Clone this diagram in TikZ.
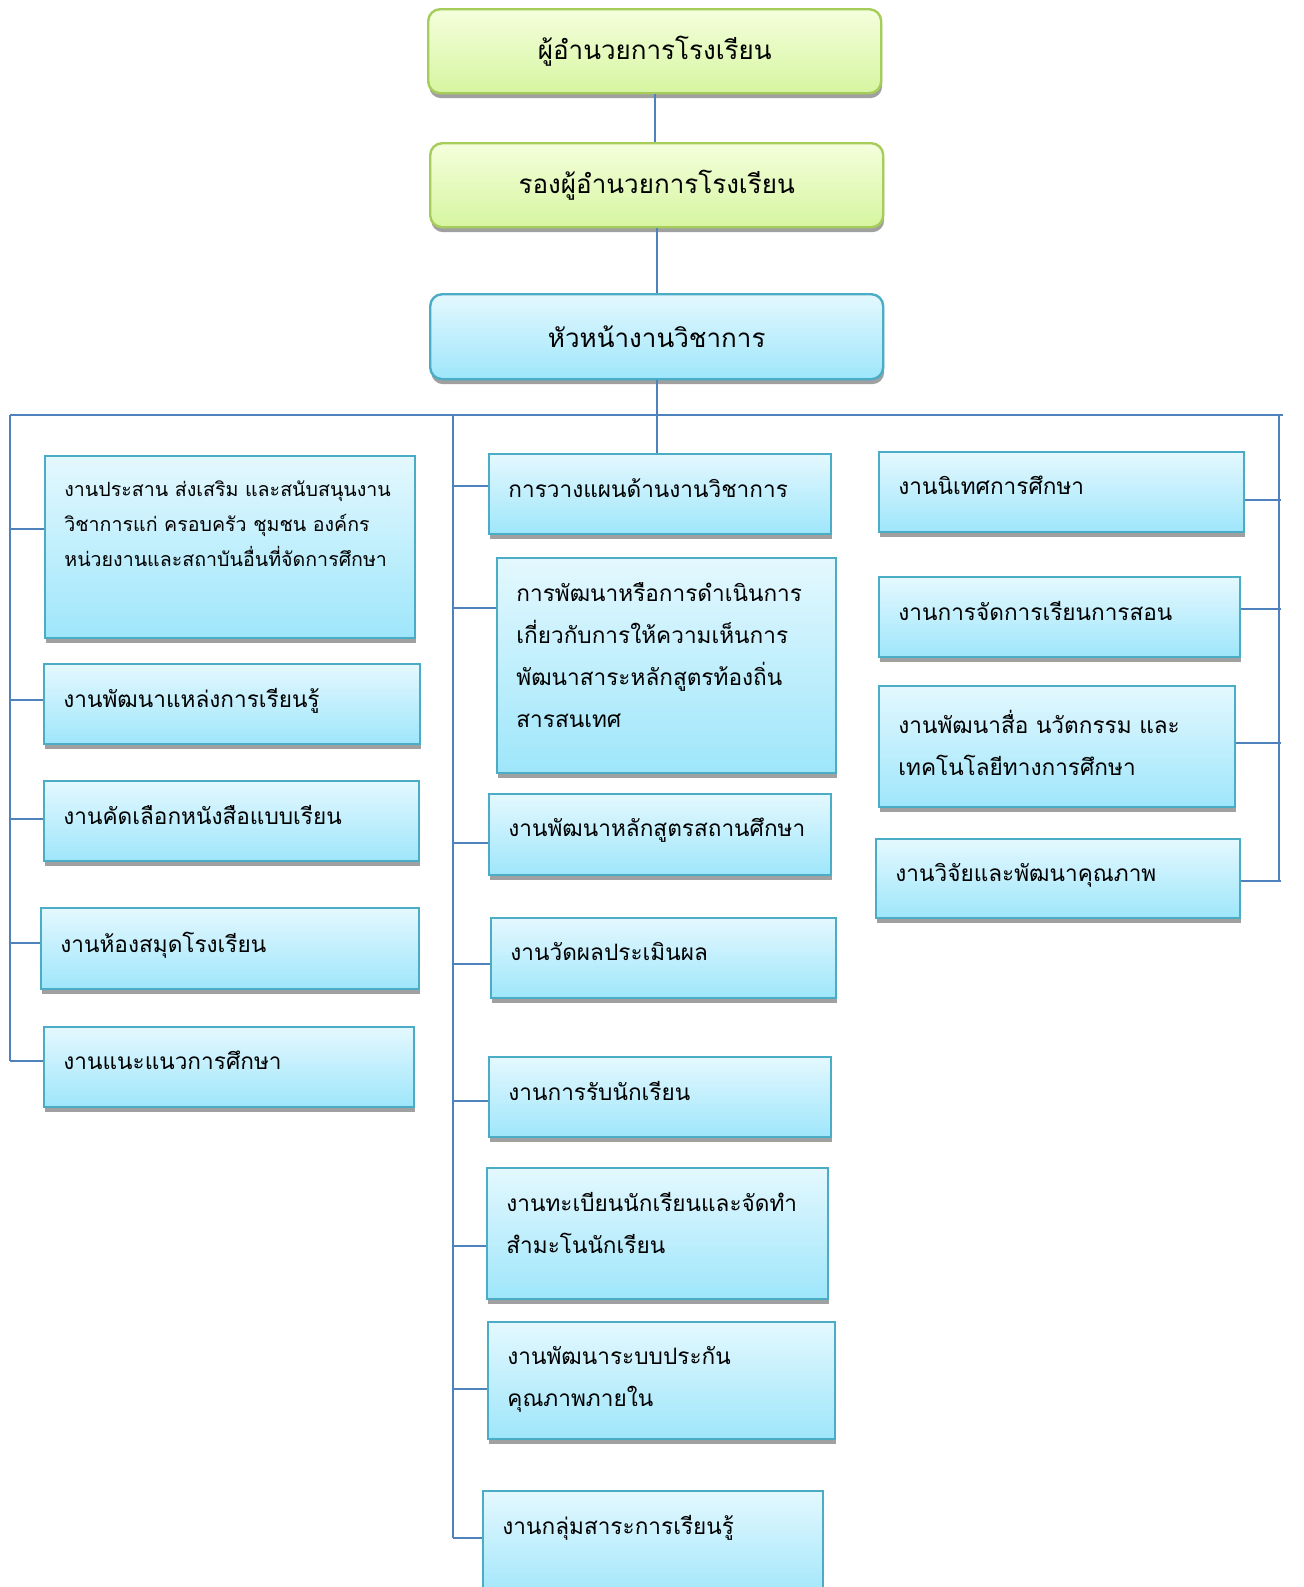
\documentclass[tikz,border=0pt]{standalone}
\usepackage{fontspec}
\newfontfamily\thaifont[Script=Thai]{Loma}
\usepackage{tikz}
\usetikzlibrary{positioning, shadows}
\definecolor{linkcolor}{RGB}{79,129,189}
\definecolor{greenborder}{RGB}{166,204,90}
\definecolor{greentop}{RGB}{244,255,220}
\definecolor{greenbottom}{RGB}{214,245,160}
\definecolor{blueborder}{RGB}{75,172,198}
\definecolor{bluetop}{RGB}{228,248,254}
\definecolor{bluebottom}{RGB}{158,230,251}
\definecolor{shadowgray}{RGB}{160,160,160}

\begin{document}
\begin{tikzpicture}[x=0.5pt, y=-0.5pt,
    link/.style={draw=linkcolor, line width=1pt},
    boxshadow/.style={drop shadow={shadow xshift=0.5pt, shadow yshift=-2.5pt, fill=shadowgray, opacity=1}},
    headbox/.style={draw=greenborder, line width=1.2pt, rounded corners=6pt, top color=greentop, bottom color=greenbottom, boxshadow, anchor=north west, inner sep=0pt, font=\thaifont\fontsize{13}{16}\selectfont},
    chiefbox/.style={headbox, draw=blueborder, top color=bluetop, bottom color=bluebottom},
    taskbox/.style={draw=blueborder, line width=1.2pt, top color=bluetop, bottom color=bluebottom, boxshadow, anchor=north west, inner sep=0pt},
    tasktext/.style={inner sep=0pt, align=left, font=\thaifont\fontsize{11.3}{21}\selectfont}]

    % Top of the chart
    \node[headbox, minimum width=226.5pt, minimum height=42pt] (director) at (427,8) {ผู้อำนวยการโรงเรียน};
    \node[headbox, minimum width=226.5pt, minimum height=42pt] (deputy) at (429,142) {รองผู้อำนวยการโรงเรียน};
    \node[chiefbox, minimum width=226.5pt, minimum height=42.5pt] (chief) at (429,293) {หัวหน้างานวิชาการ};
    \draw[link] (director.south) -- (director.south |- deputy.north);
    \draw[link] (deputy.south) -- (deputy.south |- chief.north);

    % Bus lines
    \coordinate (busL) at (10,415);
    \coordinate (busM) at (453,415);
    \coordinate (busR) at (1279,415);
    \draw[link] (busL) -- ([xshift=2pt]busR);

    % Left column
    \foreach \n/\x/\y/\w/\h/\s in {l1/44/455/370/182/9, l2/43/663/376/80/2, l3/43/780/375/80/1, l4/40/907/378/81/3, l5/43/1026/370/80/3} {
        \node[taskbox, minimum width=\w*0.5pt, minimum height=\h*0.5pt] (\n) at (\x,\y) {};
        \coordinate (\n-s) at ([yshift=\s pt]\n.west);
        \draw[link] (busL |- \n-s) -- (\n-s);
    }
    \node[tasktext, font=\thaifont\fontsize{9.8}{17.5}\selectfont, below right=12.5pt and 10pt of l1.north west] (l1t) {งานประสาน ส่งเสริม และสนับสนุนงาน\\วิชาการแก่ ครอบครัว ชุมชน องค์กร\\หน่วยงานและสถาบันอื่นที่จัดการศึกษา};
    \node[tasktext, below right=12.5pt and 10pt of l2.north west] (l2t) {งานพัฒนาแหล่งการเรียนรู้};
    \node[tasktext, below right=12.5pt and 10pt of l3.north west] (l3t) {งานคัดเลือกหนังสือแบบเรียน};
    \node[tasktext, below right=12.5pt and 10pt of l4.north west] (l4t) {งานห้องสมุดโรงเรียน};
    \node[tasktext, below right=12.5pt and 10pt of l5.north west] (l5t) {งานแนะแนวการศึกษา};
    \draw[link] (busL) -- (busL |- l5-s);

    % Middle column
    \foreach \n/\x/\y/\w/\h/\s in {m1/488/453/342/80/4, m2/496/557/339/215/29, m3/488/793/342/81/-4, m4/490/917/345/80/-3, m5/488/1056/342/80/-2, m6/486/1167/341/131/-6, m7/487/1321/347/117/-4, m8/482/1490/340/110/4} {
        \node[taskbox, minimum width=\w*0.5pt, minimum height=\h*0.5pt] (\n) at (\x,\y) {};
        \coordinate (\n-s) at ([yshift=\s pt]\n.west);
        \draw[link] (busM |- \n-s) -- (\n-s);
    }
    \draw[link] (chief.south) -- (chief.south |- m1.north);
    \node[tasktext, below right=12.5pt and 10pt of m1.north west] (m1t) {การวางแผนด้านงานวิชาการ};
    \node[tasktext, below right=12.5pt and 10pt of m2.north west] (m2t) {การพัฒนาหรือการดำเนินการ\\เกี่ยวกับการให้ความเห็นการ\\พัฒนาสาระหลักสูตรท้องถิ่น\\สารสนเทศ};
    \node[tasktext, below right=12.5pt and 10pt of m3.north west] (m3t) {งานพัฒนาหลักสูตรสถานศึกษา};
    \node[tasktext, below right=12.5pt and 10pt of m4.north west] (m4t) {งานวัดผลประเมินผล};
    \node[tasktext, below right=12.5pt and 10pt of m5.north west] (m5t) {งานการรับนักเรียน};
    \node[tasktext, below right=12.5pt and 10pt of m6.north west] (m6t) {งานทะเบียนนักเรียนและจัดทำ\\สำมะโนนักเรียน};
    \node[tasktext, below right=12.5pt and 10pt of m7.north west] (m7t) {งานพัฒนาระบบประกัน\\คุณภาพภายใน};
    \node[tasktext, below right=12.5pt and 10pt of m8.north west] (m8t) {งานกลุ่มสาระการเรียนรู้};
    \draw[link] (busM) -- (busM |- m8-s);

    % Right column
    \foreach \n/\x/\y/\w/\h/\s in {r1/878/451/365/80/-4, r2/878/576/361/80/4, r3/878/685/356/121/2, r4/875/838/364/79/-1} {
        \node[taskbox, minimum width=\w*0.5pt, minimum height=\h*0.5pt] (\n) at (\x,\y) {};
        \coordinate (\n-s) at ([yshift=\s pt]\n.east);
        \draw[link] (\n-s) -- ([xshift=1pt]busR |- \n-s);
    }
    \node[tasktext, below right=12.5pt and 10pt of r1.north west] (r1t) {งานนิเทศการศึกษา};
    \node[tasktext, below right=12.5pt and 10pt of r2.north west] (r2t) {งานการจัดการเรียนการสอน};
    \node[tasktext, below right=12.5pt and 10pt of r3.north west] (r3t) {งานพัฒนาสื่อ นวัตกรรม และ\\เทคโนโลยีทางการศึกษา};
    \node[tasktext, below right=12.5pt and 10pt of r4.north west] (r4t) {งานวิจัยและพัฒนาคุณภาพ};
    \draw[link] (busR) -- (busR |- r4-s);

    % Page size
    \pgfresetboundingbox
    \useasboundingbox (0,0) rectangle (1304,1587);
\end{tikzpicture}
\end{document}
